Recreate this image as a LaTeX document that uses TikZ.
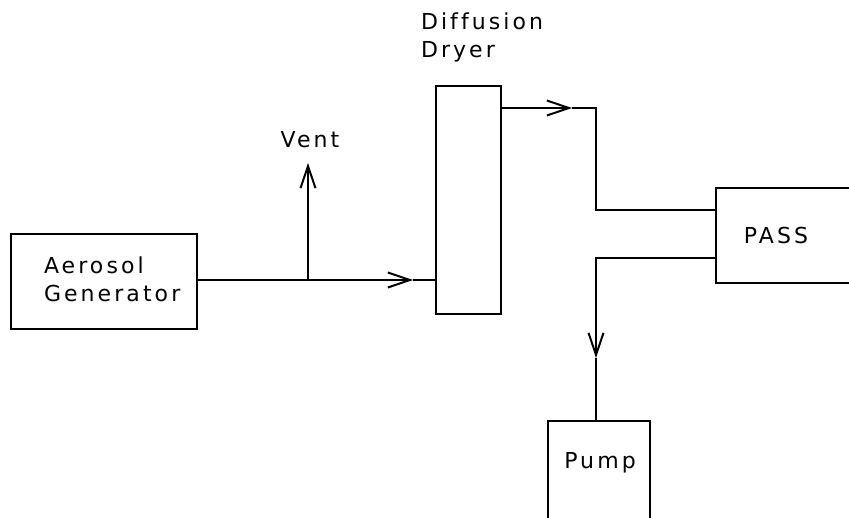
\documentclass[tikz,border=0pt]{standalone}
\usepackage{fontspec}
\newfontfamily\plotfont[LetterSpace=14,Ligatures=NoCommon]{DejaVu Sans}
\usetikzlibrary{arrows.meta}
\begin{document}
\begin{tikzpicture}[x=1pt,y=-1pt,
  line width=2pt,
  box/.style={draw, line width=2pt, rectangle, inner sep=0pt, anchor=north west},
  lbl/.style={font=\plotfont\fontsize{22}{28}\selectfont, inner sep=0pt},
  arr/.style={-{Straight Barb[length=22pt,width=15pt,line width=2pt]}}]
\clip (0,0) rectangle (849,517);
\useasboundingbox (0,0) rectangle (849,517);
\fill[white] (0,0) rectangle (849,517);
% boxes
\node[box, minimum width=186pt, minimum height=95pt] (gen) at (10,233) {};
\node[box, minimum width=65pt, minimum height=228pt] (dryer) at (435,85) {};
\node[box, minimum width=150pt, minimum height=95pt] (pass) at (715,187) {};
\node[box, minimum width=102pt, minimum height=105pt] (pump) at (547,420) {};
% labels
\node[lbl, align=left, anchor=north west] (genlbl) at (43,255.5) {Aerosol\\Generator};
\node[lbl, align=left, anchor=north west] (dryerlbl) at (420,11.5) {Dif{}fusion\\Dryer};
\node[lbl, anchor=base] (ventlbl) at (310,147) {Vent};
\node[lbl, anchor=base] (passlbl) at (776,243) {PASS};
\node[lbl, anchor=base] (pumplbl) at (600,468) {Pump};
% coordinates
\coordinate (j) at (308,280);
\coordinate (a1) at (413,280);
\coordinate (vt) at (308,163);
\coordinate (d1) at (500,108);
\coordinate (a2) at (572,108);
\coordinate (b1) at (596,108);
\coordinate (b2) at (596,210);
\coordinate (c1) at (715,258);
\coordinate (c2) at (596,258);
\coordinate (a3) at (596,358);
% connectors
\draw (gen.east |- j) -- (j);
\draw[arr] (j) -- (a1);
\draw (a1) -- (a1 -| dryer.west);
\draw[arr] (j) -- (vt);
\draw[arr] (d1) -- (a2);
\draw (a2) -- (b1) -- (b2) -- (b2 -| pass.west);
\draw[arr] (c1) -- (c2) -- (a3);
\draw (a3) -- (a3 |- pump.north);
\end{tikzpicture}
\end{document}
